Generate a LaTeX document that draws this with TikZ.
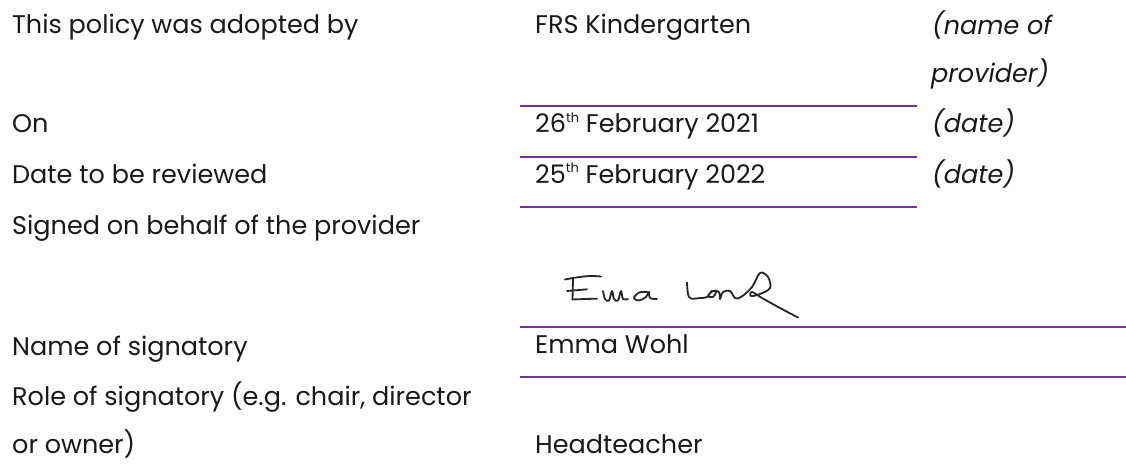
\documentclass[tikz,border=0pt]{standalone}
\usepackage{fontspec}
\setmainfont{Poppins}
\usepackage{tikz}
\usepackage{xcolor}
\definecolor{rulepurple}{HTML}{7030A0}

\newcommand{\ordsup}[1]{\raisebox{0.75ex}{\fontsize{13}{13}\selectfont #1}}

\begin{document}
\begin{tikzpicture}[x=1pt, y=-1pt,
    form text/.style={anchor=base west, inner sep=0pt, text=black!90, font=\fontsize{25.5}{30}\selectfont},
    note text/.style={form text, font=\fontsize{25.5}{30}\selectfont\itshape},
    rule line/.style={draw=rulepurple, line width=2pt},
    pen/.style={draw=black!85, line width=1.8pt, line cap=round, line join=round}]

	\useasboundingbox (0,0) rectangle (1126,471);

	\foreach \l/\y [count=\i] in {This policy was adopted by/33.5, On/132.5, Date to be reviewed/183,
	    Signed on behalf of the provider/234, Name of signatory/355,
	    {Role of signatory (e.g. chair, director}/405, or owner)/453}
	  \node [form text] (label-\i) at (12,\y) {\l};

	\node [form text] (value-provider) at (535,33.5) {FRS Kindergarten};
	\node [form text] (value-on) at (535,132.5) {26\ordsup{th} February 2021};
	\node [form text] (value-review) at (535,183) {25\ordsup{th} February 2022};
	\node [form text] (value-name) at (535,353) {Emma Wohl};
	\node [form text] (value-role) at (535,453) {Headteacher};

	\node [note text] (note-provider) at (932,34) {(name of};
	\node [note text] (note-provider2) at (931,82) {provider)};
	\node [note text] (note-on) at (932,132.5) {(date)};
	\node [note text] (note-review) at (932,183) {(date)};

	\foreach \y in {106,156.5,207}
	  \draw [rule line] (520,\y) -- (917,\y);
	\foreach \y in {327,377}
	  \draw [rule line] (520,\y) -- (1126,\y);

	% signature
	\draw [pen] plot [smooth, tension=0.6] coordinates {(565,279.5) (576,277.5) (590,276) (601,276.5)};
	\draw [pen] (573,279) -- (572.5,299.5);
	\draw [pen] (567,291) -- (587,289.3);
	\draw [pen] plot [smooth, tension=0.6] coordinates {(572.5,299.5) (585,299) (597,298.7)};
	\draw [pen] plot [smooth, tension=0.6] coordinates {(603,291) (605,299) (609,300.5) (612,291)
	    (614,299) (618,300.5) (621,291) (623,299) (628,299)};
	\draw [pen] plot [smooth, tension=0.6] coordinates {(648,292) (639,292.5) (634,298) (639,300.5)
	    (646,297) (649,292) (650,298) (657,299)};
	\draw [pen] plot [smooth, tension=0.6] coordinates {(687,282.5) (688,294) (691,298.5) (700,298)
	    (707,297) (712,291) (716,292) (713,297) (708,296) (713,291) (719,292)
	    (720,299) (723,292) (730,291) (735,298) (741,297) (752,287) (760,273)
	    (768,277) (770,288) (760,294) (751,296) (752,292) (762,298) (780,308) (798,317.5)};

\end{tikzpicture}
\end{document}
